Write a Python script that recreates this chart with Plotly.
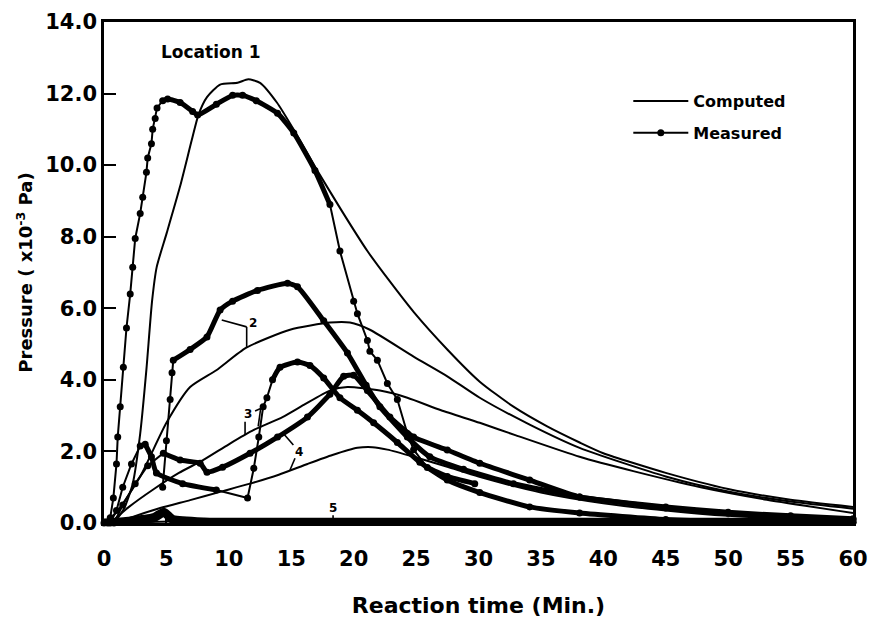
import plotly.graph_objects as go

# ---------------- data ----------------
# Location 1
m1_x = [0.3, 0.5, 0.75, 1.0, 1.1, 1.3, 1.55, 1.8, 2.1, 2.3, 2.5, 2.9, 3.1, 3.4, 3.5, 3.8, 3.9, 4.1, 4.25,
        4.7, 5.1, 6.1, 7.1, 7.5, 9.0, 10.3, 11.1, 12.2, 13.9, 15.2, 16.9, 18.1,
        18.9, 20.0, 20.3, 21.1, 21.3, 21.9, 22.7, 23.5, 24.3, 24.8, 25.9, 27.5, 29.7]
m1_y = [0.0, 0.15, 0.7, 1.65, 2.4, 3.25, 4.35, 5.45, 6.4, 7.15, 7.95, 8.65, 9.1, 9.8, 10.2, 10.6, 11.0, 11.3, 11.6,
        11.8, 11.85, 11.75, 11.5, 11.4, 11.7, 11.95, 11.95, 11.8, 11.45, 10.9, 9.85, 8.9,
        7.6, 6.2, 5.85, 5.1, 4.8, 4.55, 3.9, 3.45, 2.5, 2.05, 1.55, 1.3, 1.1]
c1_x = [0.8, 1.6, 2.3, 2.9, 3.4, 3.85, 4.22, 5.02, 6.09, 7.03, 7.56, 8.25, 9.3, 10.7, 11.55, 12.5, 13.85,
        15.1, 17.0, 19.0, 21.1, 22.9, 24.8, 27.5, 30.1, 32.8, 35.5, 38.1, 40.0, 45.0, 50.0, 55.0, 60.0]
c1_y = [0.0, 0.4, 1.1, 2.5, 4.3, 6.2, 7.15, 8.1, 9.4, 10.7, 11.4, 11.9, 12.25, 12.3, 12.4, 12.3, 11.75,
        11.05, 9.9, 8.75, 7.6, 6.75, 5.9, 4.85, 3.95, 3.25, 2.7, 2.25, 1.95, 1.4, 0.95, 0.65, 0.45]

# Location 2
m2_x = [4.7, 5.0, 5.3, 5.45, 5.55, 6.9, 8.25, 9.3, 10.3, 12.3, 14.7, 15.5, 17.6, 19.5, 21.0, 22.1,
        24.3, 26.1, 28.8, 32.8, 38.1, 45.0, 50.0, 55.0, 60.0]
m2_y = [1.0, 2.3, 3.45, 4.2, 4.55, 4.85, 5.2, 5.95, 6.2, 6.5, 6.7, 6.6, 5.65, 4.75, 3.85, 3.25,
        2.4, 1.85, 1.5, 1.1, 0.73, 0.42, 0.27, 0.17, 0.1]
c2_x = [0.0, 1.0, 2.9, 5.0, 6.9, 9.0, 11.4, 14.9, 18.1, 19.7, 21.3, 24.8, 27.5, 30.1, 34.1, 38.1,
        45.0, 50.0, 55.0, 60.0]
c2_y = [0.0, 0.3, 1.3, 2.8, 3.8, 4.27, 4.9, 5.4, 5.6, 5.6, 5.4, 4.65, 4.1, 3.5, 2.75, 2.1,
        1.3, 0.88, 0.6, 0.4]

# Location 3
m3_x = [0.5, 1.0, 1.5, 2.2, 2.9, 3.3, 3.8, 4.2, 6.3, 9.0, 11.5, 12.0, 12.4, 12.75, 13.05, 13.5, 14.1,
        15.5, 16.5, 17.6, 18.9, 20.3, 21.6, 23.5, 25.3, 27.5, 30.1, 34.1, 38.1, 45.0, 50.0, 60.0]
m3_y = [0.0, 0.35, 1.0, 1.65, 2.15, 2.2, 1.85, 1.4, 1.1, 0.92, 0.7, 1.53, 2.4, 3.25, 3.5, 4.0, 4.35,
        4.5, 4.4, 4.05, 3.5, 3.15, 2.8, 2.25, 1.7, 1.2, 0.85, 0.45, 0.28, 0.1, 0.05, 0.02]
c3_x = [0.5, 2.0, 4.0, 6.0, 7.9, 10.0, 12.0, 14.3, 16.0, 18.1, 19.5, 22.1, 24.3, 27.0, 30.1, 33.0,
        38.1, 42.4, 47.8, 53.1, 60.0]
c3_y = [0.0, 0.45, 0.95, 1.4, 1.75, 2.2, 2.6, 2.96, 3.3, 3.7, 3.8, 3.7, 3.5, 3.15, 2.8, 2.45,
        1.85, 1.45, 1.0, 0.65, 0.28]

# Location 4
m4_x = [0.8, 1.5, 2.5, 3.5, 4.75, 6.1, 7.7, 8.25, 9.5, 11.7, 13.9, 16.3, 18.1, 19.2, 20.0, 21.1,
        22.9, 24.8, 27.5, 30.1, 34.1, 38.1, 45.0, 50.0, 55.0, 60.0]
m4_y = [0.0, 0.5, 1.1, 1.6, 1.95, 1.76, 1.67, 1.42, 1.56, 1.95, 2.4, 2.96, 3.6, 4.1, 4.13, 3.7,
        2.96, 2.4, 2.04, 1.67, 1.2, 0.73, 0.45, 0.3, 0.2, 0.12]
c4_x = [1.0, 2.3, 4.5, 6.9, 9.3, 11.7, 14.0, 16.3, 18.3, 20.3, 21.5, 22.7, 24.8, 27.5, 30.0, 35.0,
        40.0, 45.0, 50.0, 55.0, 60.0]
c4_y = [0.0, 0.17, 0.42, 0.64, 0.87, 1.1, 1.35, 1.65, 1.9, 2.1, 2.12, 2.05, 1.85, 1.57, 1.3, 0.85,
        0.55, 0.35, 0.2, 0.12, 0.08]

# Location 5
m5_x = [0.0, 2.0, 4.0, 4.8, 5.5, 8.0, 15.0, 20.0, 30.0, 40.0, 50.0, 60.0]
m5_y = [0.0, 0.05, 0.15, 0.3, 0.1, 0.03, 0.02, 0.02, 0.02, 0.02, 0.02, 0.02]
c5_x = [0.0, 10.0, 20.0, 30.0, 40.0, 50.0, 60.0]
c5_y = [0.0, 0.08, 0.1, 0.08, 0.05, 0.03, 0.02]

# curve labels (text, x, y) and leader segments (x0, y0, x1, y1)
label_text = ["Location 1", "2", "3", "4", "5"]
label_x = [8.6, 11.96, 11.5, 15.6, 18.35]
label_y = [13.15, 5.58, 3.06, 1.99, 0.42]
leaders = [
    (9.43, 5.67, 11.43, 5.48), (11.43, 5.48, 11.43, 4.92),
    (11.3, 2.83, 11.3, 2.46), (12.1, 3.13, 12.55, 3.2), (12.55, 3.2, 12.35, 2.7),
    (15.17, 2.18, 14.37, 2.5), (15.3, 1.81, 14.9, 1.48),
    (18.35, 0.22, 18.35, 0.0),
]

# x-spans where the measured record is drawn as separated dots (style)
dotted_spans = {
    "m1": [(0.0, 4.5), (18.5, 24.9)],
    "m2": [(4.6, 5.5)],
    "m3": [(0.4, 3.2), (11.4, 13.4)],
    "m4": [(0.7, 3.6)],
    "m5": [],
}

FONT = "DejaVu Sans"
BLACK = "#000000"

fig = go.Figure()

computed = [(c1_x, c1_y), (c2_x, c2_y), (c3_x, c3_y), (c4_x, c4_y), (c5_x, c5_y)]
for i, (cx, cy) in enumerate(computed):
    fig.add_trace(go.Scatter(
        x=cx, y=cy, mode="lines", line=dict(color=BLACK, width=2, shape="spline", smoothing=0.6),
        name="Computed", showlegend=(i == 0), legendgroup="comp", hoverinfo="skip"))

measured = {"m1": (m1_x, m1_y), "m2": (m2_x, m2_y), "m3": (m3_x, m3_y),
            "m4": (m4_x, m4_y), "m5": (m5_x, m5_y)}
first = True
for key, (mx, my) in measured.items():
    spans = dotted_spans[key]

    def inside(x):
        return any(a < x < b for a, b in spans)

    heavy = 9 if key == "m5" else 5
    # heavy line over the dense parts of the record
    dense_y = [None if inside(x) else y for x, y in zip(mx, my)]
    fig.add_trace(go.Scatter(
        x=mx, y=dense_y, mode="lines", connectgaps=False,
        line=dict(color=BLACK, width=heavy, shape="spline", smoothing=0.5),
        showlegend=False, hoverinfo="skip", cliponaxis=False))
    # every point as a dot joined by a thin line
    fig.add_trace(go.Scatter(
        x=mx, y=my, mode="lines+markers",
        line=dict(color=BLACK, width=2),
        marker=dict(color=BLACK, size=7, symbol="circle"),
        name="Measured", showlegend=first, legendgroup="meas",
        hoverinfo="skip", cliponaxis=False))
    first = False

# labels
for t, x, y in zip(label_text, label_x, label_y):
    fig.add_annotation(x=x, y=y, text=t, showarrow=False, xref="x", yref="y",
                       font=dict(family=FONT, size=17 if len(t) > 2 else 12, color=BLACK, weight="bold"))
for x0, y0, x1, y1 in leaders:
    fig.add_shape(type="line", x0=x0, y0=y0, x1=x1, y1=y1, xref="x", yref="y",
                  line=dict(color=BLACK, width=1.6))

fig.update_layout(
    width=870, height=624,
    margin=dict(l=104, r=17, t=22, b=101, autoexpand=False),
    paper_bgcolor="white", plot_bgcolor="white",
    font=dict(family=FONT, color=BLACK),
    legend=dict(x=0.7, y=0.876, xanchor="left", yanchor="top",
                bgcolor="rgba(0,0,0,0)", tracegroupgap=8, itemwidth=55,
                font=dict(family=FONT, size=16, color=BLACK, weight="bold")),
    xaxis=dict(range=[0, 60], tick0=0, dtick=5, showline=True, linewidth=3, linecolor=BLACK,
               mirror=True, ticks="inside", ticklen=5, tickwidth=2, tickcolor=BLACK,
               showgrid=False, zeroline=False, ticklabelstandoff=15, automargin=False,
               tickfont=dict(family=FONT, size=21, color=BLACK, weight="bold"),
               title=dict(text="Reaction time (Min.)", standoff=28,
                          font=dict(family=FONT, size=22, color=BLACK, weight="bold"))),
    yaxis=dict(range=[0, 14], tick0=0, dtick=2, tickformat=".1f", showline=True, linewidth=2.5,
               linecolor=BLACK, mirror=True, ticks="inside", ticklen=12, tickwidth=2,
               tickcolor=BLACK, showgrid=False, zeroline=False, automargin=False,
               tickfont=dict(family=FONT, size=21, color=BLACK, weight="bold"),
               title=dict(text="Pressure ( x10<sup>-3</sup> Pa)", standoff=8,
                          font=dict(family=FONT, size=18, color=BLACK, weight="bold"))),
)

fig.write_html("out.html")
